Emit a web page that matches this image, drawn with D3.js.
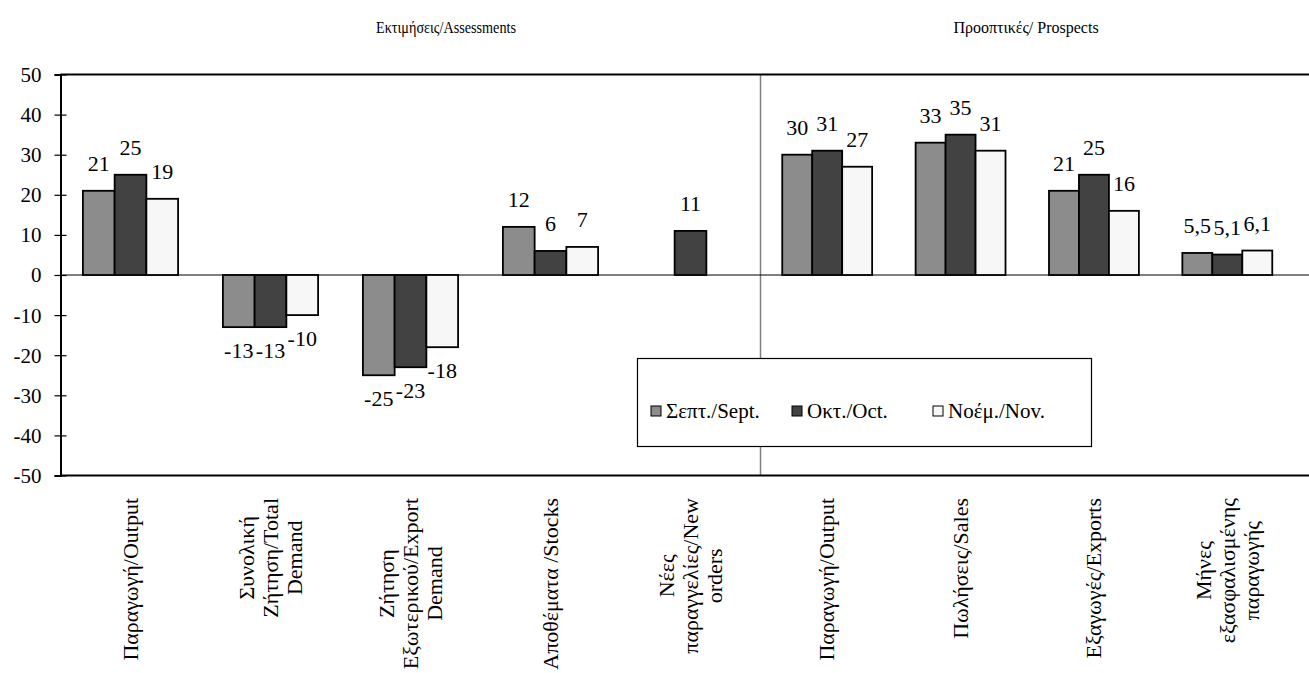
<!DOCTYPE html>
<html>
<head>
<meta charset="utf-8">
<script src="https://cdn.jsdelivr.net/npm/d3@7"></script>
<style>
  html, body { margin: 0; padding: 0; background: #fff; }
  svg { display: block; }
  text { font-family: "Liberation Serif", "DejaVu Serif", serif; fill: #000; }
</style>
</head>
<body>
<svg id="chart" width="1309" height="673"></svg>
<script>
// ---- data ----
const categories = [
  ["Παραγωγή/Output"],
  ["Συνολική", "Ζήτηση/Total", "Demand"],
  ["Ζήτηση", "Εξωτερικού/Export", "Demand"],
  ["Αποθέματα /Stocks"],
  ["Νέες", "παραγγελίες/New", "orders"],
  ["Παραγωγή/Output"],
  ["Πωλήσεις/Sales"],
  ["Εξαγωγές/Exports"],
  ["Μήνες", "εξασφαλισμένης", "παραγωγής"]
];
const seriesNames = ["Σεπτ./Sept.", "Οκτ./Oct.", "Νοέμ./Nov."];
const sept = [21, -13, -25, 12, null, 30, 33, 21, 5.5];
const oct  = [25, -13, -23, 6, 11, 31, 35, 25, 5.1];
const nov  = [19, -10, -18, 7, null, 27, 31, 16, 6.1];
const yTicks = [50, 40, 30, 20, 10, 0, -10, -20, -30, -40, -50];
const sectionTitles = ["Εκτιμήσεις/Assessments", "Προοπτικές/ Prospects"];
const leftCount = 5; // categories in the assessments panel

const colors = ["#8c8c8c", "#424242", "#f7f7f7"];
const series = [sept, oct, nov];

const svg = d3.select("#chart");
const plotLeft = 60.5, plotRight = 1309, sepX = 760.5, rightEnd = 1294;
const y = d3.scaleLinear().domain([-50, 50]).range([475.5, 74.5]);

const idx = d3.range(categories.length);
const xLeft = d3.scaleBand().domain(idx.slice(0, leftCount)).range([plotLeft, sepX])
  .paddingInner(0.32).paddingOuter(0.16);
const xRight = d3.scaleBand().domain(idx.slice(leftCount)).range([sepX, rightEnd])
  .paddingInner(0.326).paddingOuter(0.163);
const xCat = i => (i < leftCount ? xLeft(i) : xRight(i));
const bwCat = i => (i < leftCount ? xLeft.bandwidth() : xRight.bandwidth());

// separator line
svg.append("line").attr("x1", sepX).attr("x2", sepX)
  .attr("y1", y(50)).attr("y2", y(-50))
  .attr("stroke", "#7f7f7f").attr("stroke-width", 1.5);

// zero line
svg.append("line").attr("x1", plotLeft).attr("x2", plotRight)
  .attr("y1", y(0)).attr("y2", y(0)).attr("stroke", "#000").attr("stroke-width", 1);

// top / bottom frame lines
[50, -50].forEach(v => {
  svg.append("line").attr("x1", plotLeft).attr("x2", plotRight)
    .attr("y1", y(v)).attr("y2", y(v)).attr("stroke", "#000").attr("stroke-width", 2);
});

// y axis
const yAxis = d3.axisLeft(y).tickValues(yTicks).tickSize(6).tickPadding(13)
  .tickFormat(d => String(d));
const ga = svg.append("g").attr("transform", `translate(${plotLeft},0)`).call(yAxis);
ga.attr("font-family", null).attr("font-size", null);
ga.select(".domain").attr("stroke", "#000").attr("stroke-width", 2);
ga.selectAll(".tick line").attr("stroke", "#000").attr("x1", 6).attr("x2", -6).attr("stroke-width", 1.2);
ga.selectAll(".tick text").attr("font-size", 21).attr("dy", "0.33em").attr("fill", "#000");

// bars
const bars = [];
idx.forEach(i => {
  const inner = d3.scaleBand().domain(d3.range(3)).range([0, bwCat(i)]);
  series.forEach((s, k) => {
    const v = s[i];
    if (v === null || v === undefined) return;
    bars.push({ x: xCat(i) + inner(k), w: inner.bandwidth(), v, k });
  });
});
svg.append("g").selectAll("rect").data(bars).join("rect")
  .attr("x", d => d.x).attr("width", d => d.w)
  .attr("y", d => y(Math.max(0, d.v)))
  .attr("height", d => Math.abs(y(d.v) - y(0)))
  .attr("fill", d => colors[d.k]).attr("stroke", "#000").attr("stroke-width", 1.8);

// value labels
const fmt = v => String(v).replace(".", ",");
svg.append("g").selectAll("text").data(bars).join("text")
  .attr("x", d => d.x + d.w / 2)
  .attr("y", d => d.v >= 0 ? y(d.v) - 20 : y(d.v) + 31)
  .attr("text-anchor", "middle").attr("font-size", 22)
  .text(d => fmt(d.v));

// category labels (rotated, multi-line, centered lines)
const catFont = 22, lineGap = 24, labelTop = 498;
idx.forEach(i => {
  const lines = categories[i];
  const cx = xCat(i) + bwCat(i) / 2;
  const g = svg.append("g");
  const texts = lines.map(t => g.append("text").attr("font-size", catFont).text(t));
  const maxLen = d3.max(texts, t => t.node().getComputedTextLength());
  const cy = labelTop + maxLen / 2;
  texts.forEach((t, j) => {
    const off = (j - (lines.length - 1) / 2) * lineGap;
    t.attr("text-anchor", "middle")
      .attr("transform", `translate(${cx + off + catFont * 0.33},${cy}) rotate(-90)`);
  });
});

// section titles
svg.append("text").attr("x", 446).attr("y", 33).attr("text-anchor", "middle")
  .attr("font-size", 16).attr("textLength", 140).attr("lengthAdjust", "spacingAndGlyphs")
  .text(sectionTitles[0]);
svg.append("text").attr("x", 1026).attr("y", 33).attr("text-anchor", "middle")
  .attr("font-size", 16).text(sectionTitles[1]);

// legend
const lg = svg.append("g");
lg.append("rect").attr("x", 637.5).attr("y", 358.5).attr("width", 454).attr("height", 88)
  .attr("fill", "#fff").attr("stroke", "#000").attr("stroke-width", 1.2);
const legX = [651, 792, 933];
seriesNames.forEach((n, k) => {
  lg.append("rect").attr("x", legX[k]).attr("y", 406).attr("width", 10).attr("height", 10)
    .attr("fill", colors[k]).attr("stroke", "#000").attr("stroke-width", 1);
  lg.append("text").attr("x", legX[k] + 15).attr("y", 418).attr("font-size", 21)
    .text(n);
});
</script>
</body>
</html>
